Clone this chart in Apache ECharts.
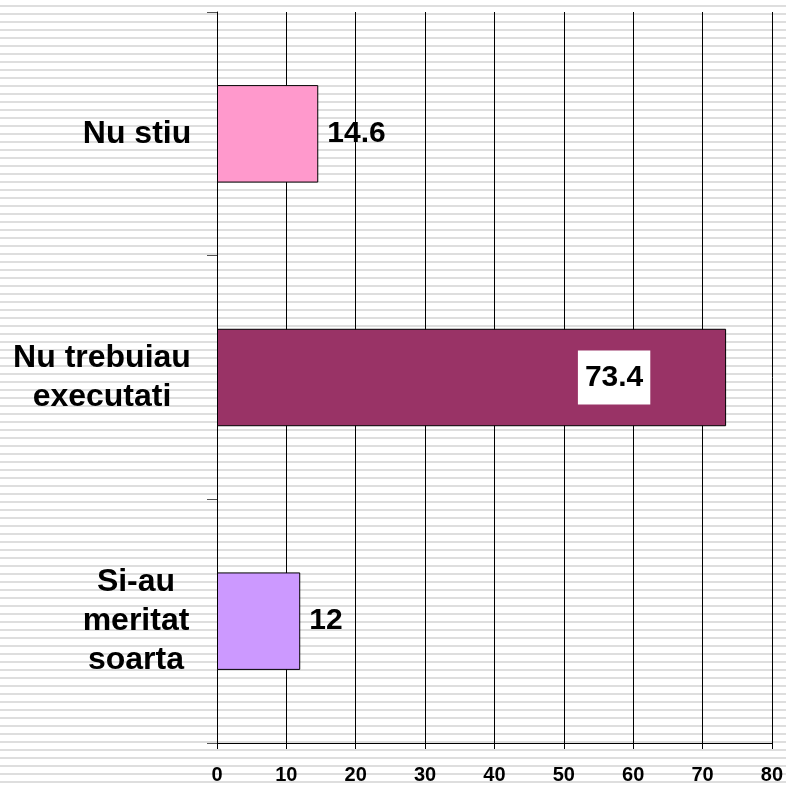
<!DOCTYPE html>
<html>
<head>
<meta charset="utf-8">
<script src="https://cdn.jsdelivr.net/npm/echarts@6/dist/echarts.min.js"></script>
<style>
  html, body {
    margin: 0;
    padding: 0;
  }
  body {
    background: repeating-linear-gradient(to bottom, #fff 0, #fff 5px, #dedede 5px, #dedede 7px, #fff 7px, #fff 8px);
  }
  #chart {
    width: 786px;
    height: 786px;
  }
</style>
</head>
<body>
<div id="chart"></div>
<script>
// bottom to top, as the category axis draws them
var categories = ['Si-au\nmeritat\nsoarta', 'Nu trebuiau\nexecutati', 'Nu stiu']
var values = [12, 73.4, 14.6]
var barColors = ['#CC99FF', '#993366', '#FF99CC']
var xTicks = [0, 10, 20, 30, 40, 50, 60, 70, 80]

// width of each label block, so its lines are centred inside it
var labelWidths = [110, 178, 108]

var chart = echarts.init(document.getElementById('chart'))

var rich = {}
labelWidths.forEach(function(w, i) {
  rich['w' + i] = {
    width: w,
    align: 'center',
    fontFamily: 'Liberation Sans, Arial, sans-serif',
    fontWeight: 'bold',
    fontSize: 32,
    lineHeight: 39,
    color: '#000'
  }
})

var seriesData = values.map(function(v, i) {
  var item = {
    value: v,
    itemStyle: { color: barColors[i] }
  }
  if (v > 50) {
    item.label = {
      position: ['78%', '50%'],
      align: 'center',
      verticalAlign: 'middle',
      backgroundColor: '#fff',
      padding: [13, 7, 11, 7]
    }
  }
  return item
})

chart.setOption({
  backgroundColor: 'transparent',
  animation: false,
  grid: {
    left: 217,
    right: 12,
    top: 12,
    bottom: 43
  },
  xAxis: {
    type: 'value',
    min: xTicks[0],
    max: xTicks[xTicks.length - 1],
    interval: 10,
    axisLine: { show: true, lineStyle: { color: '#000', width: 1 } },
    axisTick: { show: true, length: 6, lineStyle: { color: '#000' } },
    splitLine: { show: true, lineStyle: { color: '#000', width: 1 } },
    axisLabel: {
      margin: 22,
      color: '#000',
      fontFamily: 'Liberation Sans, Arial, sans-serif',
      fontWeight: 'bold',
      fontSize: 20
    }
  },
  yAxis: {
    type: 'category',
    data: categories,
    axisLine: { show: true, lineStyle: { color: '#000', width: 1 } },
    axisTick: { show: true, length: 10, lineStyle: { color: '#555' } },
    axisLabel: {
      margin: 26,
      rich: rich,
      formatter: function(val, idx) {
        return val.split('\n').map(function(line) {
          return '{w' + idx + '|' + line + '}'
        }).join('\n')
      }
    }
  },
  series: [{
    type: 'bar',
    barCategoryGap: '60%',
    data: seriesData,
    itemStyle: {
      borderColor: '#000',
      borderWidth: 1
    },
    label: {
      show: true,
      position: 'right',
      distance: 9,
      color: '#000',
      fontFamily: 'Liberation Sans, Arial, sans-serif',
      fontWeight: 'bold',
      fontSize: 30
    }
  }]
})
</script>
</body>
</html>
